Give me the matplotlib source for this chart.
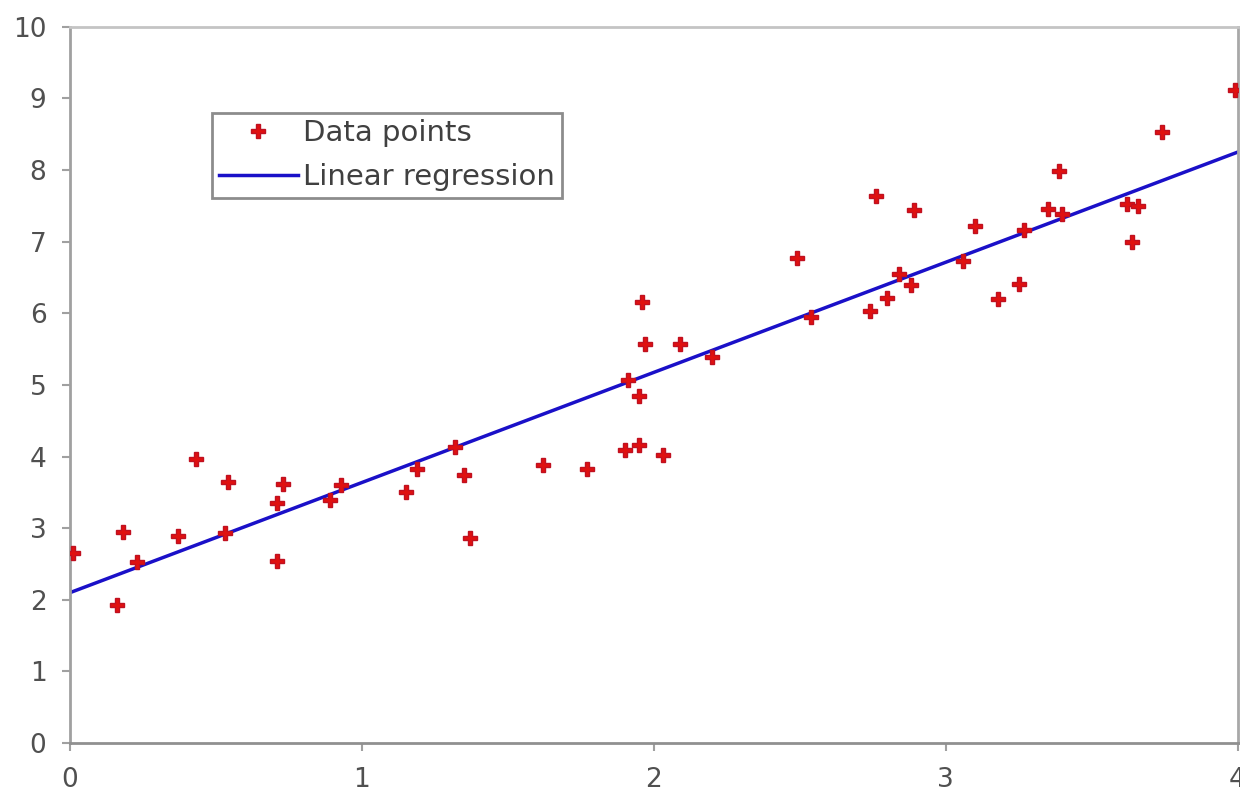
import matplotlib
matplotlib.use('Agg')
import matplotlib.pyplot as plt

plt.rcParams['font.family'] = ['DejaVu Sans']

# Scatter data
xData = [0.01, 0.18, 0.16, 0.23, 0.37, 0.43, 0.54, 0.53, 0.71, 0.73,
         0.71, 0.89, 0.93, 1.15, 1.19, 1.32, 1.35, 1.37, 1.62, 1.77,
         1.90, 1.95, 1.91, 1.95, 1.96, 1.97, 2.03, 2.09, 2.20, 2.49,
         2.54, 2.74, 2.76, 2.80, 2.84, 2.88, 2.89, 3.06, 3.10, 3.18,
         3.25, 3.27, 3.35, 3.39, 3.40, 3.62, 3.66, 3.64, 3.74, 3.99]
yData = [2.65, 2.95, 1.93, 2.53, 2.89, 3.97, 3.65, 2.93, 3.35, 3.62,
         2.54, 3.39, 3.60, 3.51, 3.83, 4.13, 3.74, 2.86, 3.88, 3.83,
         4.09, 4.16, 5.07, 4.85, 6.16, 5.57, 4.02, 5.57, 5.39, 6.77,
         5.95, 6.03, 7.64, 6.22, 6.55, 6.40, 7.44, 6.73, 7.22, 6.20,
         6.41, 7.16, 7.46, 7.99, 7.39, 7.53, 7.50, 7.00, 8.53, 9.12]

# Regression line end points
fitX = [0, 4]
fitY = [2.10, 8.25]

xTicks = [0, 1, 2, 3, 4]
yTicks = list(range(0, 11))

fig = plt.figure(figsize=(12.4, 7.94), dpi=100)
ax = fig.add_axes([0.0565, 0.0642, 0.9415, 0.902])

ax.plot(xData, yData, linestyle='none', marker='P', markersize=10,
        color='#e01010', markeredgecolor='#c01020', label='Data points', zorder=3)
ax.plot(fitX, fitY, color='#1a10c8', linewidth=2.5, label='Linear regression', zorder=2)

ax.set_xlim(0, 4)
ax.set_ylim(0, 10)
ax.set_xticks(xTicks)
ax.set_yticks(yTicks)

# Frame styling
ax.spines['left'].set_color('#a0a0a0')
ax.spines['left'].set_linewidth(2)
ax.spines['bottom'].set_color('#909090')
ax.spines['bottom'].set_linewidth(2)
ax.spines['top'].set_color('#c4c4c4')
ax.spines['top'].set_linewidth(2)
ax.spines['right'].set_color('#a8a8a8')
ax.spines['right'].set_linewidth(2)

ax.tick_params(axis='both', direction='out', length=6, width=1.5,
               color='#a0a0a0', labelcolor='#505050', labelsize=19)
ax.tick_params(axis='y', pad=11)
ax.tick_params(axis='x', pad=11)

leg = ax.legend(loc='upper left', bbox_to_anchor=(0.122, 0.880), borderaxespad=0,
                fontsize=21, frameon=True, fancybox=False, shadow=False,
                handlelength=2.7, handletextpad=0.2, borderpad=0.22,
                labelspacing=0.55)
leg.get_frame().set_edgecolor('#707070')
leg.get_frame().set_linewidth(2)
for t in leg.get_texts():
    t.set_color('#404040')

fig.savefig('out.png', dpi=100)
